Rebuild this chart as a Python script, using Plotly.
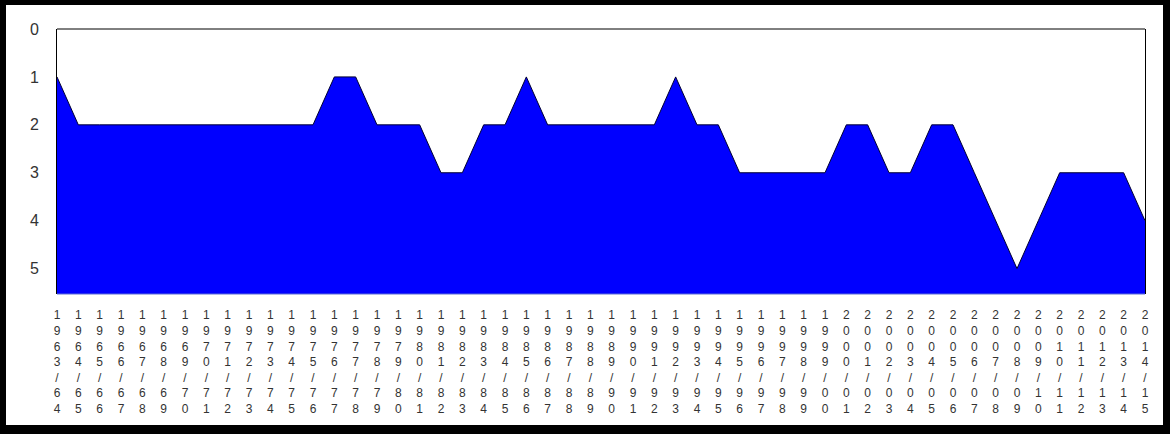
import plotly.graph_objects as go

# Seasons (x categories)
seasons = [
    "1963/64", "1964/65", "1965/66", "1966/67", "1967/68", "1968/69", "1969/70",
    "1970/71", "1971/72", "1972/73", "1973/74", "1974/75", "1975/76", "1976/77",
    "1977/78", "1978/79", "1979/80", "1980/81", "1981/82", "1982/83", "1983/84",
    "1984/85", "1985/86", "1986/87", "1987/88", "1988/89", "1989/90", "1990/91",
    "1991/92", "1992/93", "1993/94", "1994/95", "1995/96", "1996/97", "1997/98",
    "1998/99", "1999/00", "2000/01", "2001/02", "2002/03", "2003/04", "2004/05",
    "2005/06", "2006/07", "2007/08", "2008/09", "2009/10", "2010/11", "2011/12",
    "2012/13", "2013/14", "2014/15",
]

# League level per season
levels = [
    1, 2, 2, 2, 2, 2, 2, 2, 2, 2, 2, 2, 2, 1, 1, 2, 2, 2, 3, 3, 2, 2, 1, 2, 2, 2,
    2, 2, 2, 1, 2, 2, 3, 3, 3, 3, 3, 2, 2, 3, 3, 2, 2, 3, 4, 5, 4, 3, 3, 3, 3, 4,
]

y_ticks = [0, 1, 2, 3, 4, 5]
Y_BOTTOM = 5.53

tick_text = ["<br>".join(list(s)) for s in seasons]

fig = go.Figure()
fig.add_trace(go.Scatter(
    x=seasons, y=[Y_BOTTOM] * len(seasons), mode="lines",
    line=dict(width=0, color="rgba(0,0,0,0)"), hoverinfo="skip", showlegend=False,
))
fig.add_trace(go.Scatter(
    x=seasons, y=levels, mode="lines", fill="tonexty",
    fillcolor="#0000FF", line=dict(color="#000033", width=1),
    showlegend=False,
))

font_family = "Liberation Sans, Arial, sans-serif"

fig.update_layout(
    width=1170, height=434,
    margin=dict(l=57, r=25, t=29, b=140),
    paper_bgcolor="black",
    plot_bgcolor="white",
    xaxis=dict(
        type="category", range=[0, len(seasons) - 1],
        tickmode="array", tickvals=seasons, ticktext=tick_text,
        tickangle=0, showgrid=False, zeroline=False, showline=False,
        ticks="outside", ticklen=10, tickcolor="rgba(0,0,0,0)",
        tickfont=dict(family=font_family, size=12, color="#333"),
    ),
    yaxis=dict(
        range=[Y_BOTTOM, 0], tickmode="array", tickvals=y_ticks,
        showgrid=False, zeroline=False,
        showline=True, mirror=True, linecolor="black", linewidth=1,
        ticks="outside", ticklen=14, tickcolor="rgba(0,0,0,0)",
        tickfont=dict(family=font_family, size=16, color="#333"),
    ),
    shapes=[
        # white inner panel inside the black frame
        dict(type="rect", xref="paper", yref="paper",
             x0=(6 - 57) / 1088, x1=(1163 - 57) / 1088,
             y0=(294 - 425) / 265, y1=(294 - 5) / 265,
             fillcolor="white", line=dict(width=0), layer="below"),
        # top border of plot area
        dict(type="line", xref="paper", yref="paper", x0=0, x1=1, y0=1, y1=1,
             line=dict(color="black", width=1)),
        # bottom border of plot area
        dict(type="line", xref="paper", yref="paper", x0=0, x1=1, y0=0, y1=0,
             line=dict(color="#5a6ad8", width=1)),
    ],
)

fig.write_html("out.html", config={"displayModeBar": False},
               post_script="document.body.style.margin='0';")
